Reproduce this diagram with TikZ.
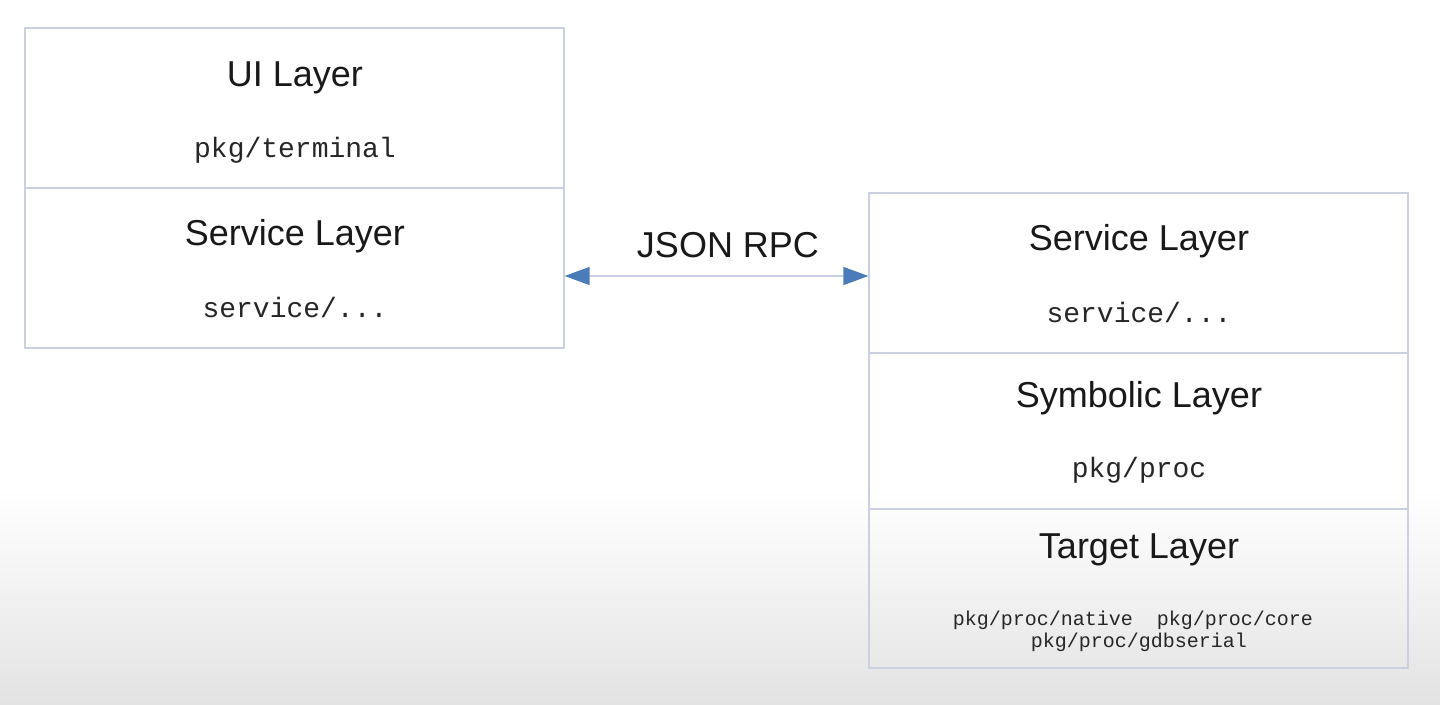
\documentclass[tikz,border=0pt]{standalone}
\usepackage{fontspec}
\setmainfont{Liberation Sans}
\setmonofont{Liberation Mono}
\usetikzlibrary{arrows.meta}
\definecolor{edgegray}{HTML}{CBD0E0}
\definecolor{linkline}{HTML}{C8D2E4}
\definecolor{tipblue}{HTML}{4A7CBA}
\definecolor{floorgray}{HTML}{E3E3E3}
\tikzset{
  layerbox/.style={draw=edgegray, line width=1.3pt, minimum width=539pt, inner sep=0pt},
  title/.style={font=\fontsize{36}{40}\selectfont, text=black!90, inner sep=0pt, anchor=base},
  pkg/.style={font=\ttfamily\fontsize{28}{32}\selectfont, text=black!85, inner sep=0pt, anchor=base},
  smallpkg/.style={font=\ttfamily\fontsize{20}{22}\selectfont, text=black!85, inner sep=0pt, anchor=base},
  link/.style={draw=linkline, line width=1.6pt,
    {Triangle[length=25pt,width=18pt,color=tipblue]}-{Triangle[length=25pt,width=18pt,color=tipblue]}}
}
\begin{document}
\begin{tikzpicture}[x=1pt,y=-1pt]
  % canvas with a soft grey floor
  \fill[white] (0,0) rectangle (1440,704);
  \shade[top color=white, bottom color=floorgray] (0,490) rectangle (1440,704);
  \useasboundingbox (0,0) rectangle (1440,704);

  % client stack
  \node[layerbox, minimum height=160pt] (ui)   at (294.5,108) {};
  \node[layerbox, minimum height=160pt] (lsvc) at (294.5,268) {};
  \node[title] (uit)   at (295,86)  {UI Layer};
  \node[pkg]   (uip)   at (295,157) {pkg/terminal};
  \node[title] (lsvct) at (295,245) {Service Layer};
  \node[pkg]   (lsvcp) at (295,317) {service/...};

  % server stack
  \node[layerbox, minimum height=160pt] (rsvc) at (1138.5,273) {};
  \node[layerbox, minimum height=156pt] (sym)  at (1138.5,431) {};
  \node[layerbox, minimum height=159pt] (tgt)  at (1138.5,588.5) {};
  \node[title] (rsvct) at (1139,250) {Service Layer};
  \node[pkg]   (rsvcp) at (1139,322) {service/...};
  \node[title] (symt)  at (1139,407) {Symbolic Layer};
  \node[pkg]   (symp)  at (1139,477) {pkg/proc};
  \node[title] (tgtt)  at (1139,558) {Target Layer};
  \node[smallpkg] (tgtp1) at (1133,625) {pkg/proc/native\ \ pkg/proc/core};
  \node[smallpkg] (tgtp2) at (1139,647) {pkg/proc/gdbserial};

  % RPC link between the two service layers
  \coordinate (lend) at (lsvc.east |- 0,276);
  \coordinate (rend) at (rsvc.west |- 0,276);
  \draw[link] (lend) -- (rend);
  \node[title] (rpc) at (728,257) {JSON RPC};
\end{tikzpicture}
\end{document}
